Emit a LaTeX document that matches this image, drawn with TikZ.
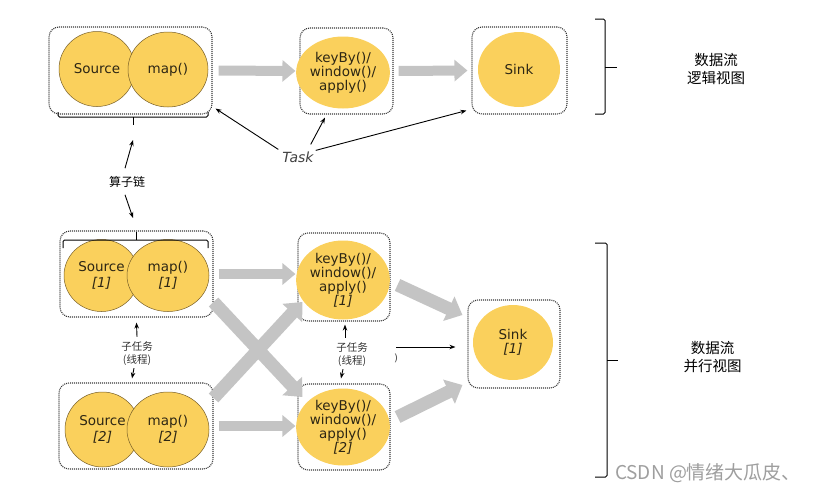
\documentclass[tikz,border=0pt]{standalone}
\usepackage{fontspec}
\setmainfont{DejaVu Sans}
\newfontfamily\cjk{Noto Sans CJK SC}
\usetikzlibrary{shapes.geometric,arrows.meta}
\definecolor{opyellow}{RGB}{250,208,92}
\definecolor{opedge}{RGB}{120,95,40}
\definecolor{optext}{RGB}{45,38,20}
\definecolor{flowgray}{RGB}{196,196,196}
\definecolor{boxline}{RGB}{55,55,55}
\tikzset{
  taskbox/.style={draw=boxline, dash pattern=on 1pt off 1pt, line width=1.1pt, rounded corners=10pt},
  op/.style={ellipse, fill=opyellow, inner sep=0pt, align=center, text=optext, font=\fontsize{13.5}{14}\selectfont},
  chained/.style={op, draw=opedge, line width=0.5pt, font=\fontsize{13.5}{16}\selectfont},
  flow/.style={draw=flowgray, line width=10pt, -{Triangle[length=13pt,width=21pt]}},
  flowx/.style={draw=flowgray, line width=13pt, -{Triangle[length=15pt,width=26pt]}},
  pointer/.style={-{Stealth[length=6pt,width=4.5pt]}, line width=0.9pt},
  bracket/.style={line width=1pt, rounded corners=1.5pt},
  note/.style={inner sep=1pt, align=center},
}
\begin{document}
\begin{tikzpicture}[x=1pt,y=-1pt]
  \useasboundingbox (0,0) rectangle (815,493);
  % logical view: tasks
  \node[taskbox, minimum width=163pt, minimum height=87pt] (box1) at (130.5,70.5) {};
  \node[taskbox, minimum width=93pt, minimum height=86pt] (box2) at (346.5,71) {};
  \node[taskbox, minimum width=95pt, minimum height=87pt] (box3) at (519.5,70.5) {};
  \node[chained, minimum width=76pt, minimum height=75pt] (src) at (97,69) {Source};
  \node[chained, minimum width=80pt, minimum height=75pt] (map) at (168,69.5) {map()};
  \node[op, minimum width=80pt, minimum height=72pt] (key) at (343,72.5) {keyBy()/\\window()/\\apply()};
  \node[op, minimum width=82pt, minimum height=75pt] (sink) at (519,69.5) {Sink};
  % parallel view: subtasks
  \node[taskbox, minimum width=153pt, minimum height=86pt] (box4) at (136.5,274) {};
  \node[taskbox, minimum width=154pt, minimum height=86pt] (box5) at (136,426) {};
  \node[taskbox, minimum width=92pt, minimum height=88pt] (box6) at (344,277) {};
  \node[taskbox, minimum width=92pt, minimum height=86pt] (box7) at (344,427) {};
  \node[taskbox, minimum width=92pt, minimum height=88pt] (box8) at (514,344) {};
  \node[chained, minimum width=75pt, minimum height=72pt] (src1) at (101.5,275.5) {Source\\\textit{[1]}};
  \node[chained, minimum width=82pt, minimum height=72pt] (map1) at (168,275.5) {map()\\\textit{[1]}};
  \node[chained, minimum width=75pt, minimum height=75pt] (src2) at (102.5,429.5) {Source\\\textit{[2]}};
  \node[chained, minimum width=82pt, minimum height=75pt] (map2) at (168,429.5) {map()\\\textit{[2]}};
  \node[op, minimum width=82pt, minimum height=79pt] (key1) at (343,280) {keyBy()/\\window()/\\apply()\\\textit{[1]}};
  \node[op, minimum width=82pt, minimum height=77pt] (key2) at (343,427) {keyBy()/\\window()/\\apply()\\\textit{[2]}};
  \node[op, minimum width=80pt, minimum height=75pt] (sink1) at (513,342.5) {Sink\\\textit{[1]}};
  % data flow
  \draw[flow, shorten <=6pt, shorten >=4pt] (box1.east) -- (box2.west);
  \draw[flow, shorten <=5pt, shorten >=4pt] (box2.east) -- (box3.west);
  \draw[flow, shorten <=5pt, shorten >=2pt] (box4.east) -- (box4.east -| box6.west);
  \draw[flow, shorten <=5pt, shorten >=2pt] (box5.east) -- (box5.east -| box7.west);
  \draw[flowx] ([shift={(0,28)}]box4.east) -- ([shift={(5,-30)}]box7.west);
  \draw[flowx] ([shift={(0,-28)}]box5.east) -- ([shift={(5,25)}]box6.west);
  \draw[flowx] ([shift={(7,8)}]box6.east) -- ([shift={(-5,-29)}]box8.west);
  \draw[flowx] ([shift={(7,-10)}]box7.east) -- ([shift={(-5,41)}]box8.west);
  % operator chain
  \draw[bracket] (58,112) -- (58,117) -- (208,117) -- (208,112);
  \draw[bracket] (133,117) -- (133,125) coordinate (chaintop);
  \draw[bracket] (63,248) -- (63,240) -- (208,240) -- (208,248);
  \draw[bracket] (136,240) -- (136,232) coordinate (chainbot);
  \node[note, font=\cjk\fontsize{12}{14}\selectfont] (chain) at (127,182) {算子链};
  \draw[pointer] ([shift={(-2,-7)}]chain.north) -- ([shift={(0,15)}]chaintop);
  \draw[pointer] ([shift={(-2,6)}]chain.south) -- ([shift={(-3,-14)}]chainbot);
  % task
  \node[note, font=\itshape\fontsize{14}{16}\selectfont, text=black!75] (task) at (298,157) {Task};
  \draw[pointer] ([shift={(-3,-1)}]task.north west) -- ([shift={(3,-6)}]box1.south east);
  \draw[pointer] ([shift={(-4,-6)}]task.north east) -- ([shift={(-21.5,3)}]box2.south);
  \draw[pointer] ([shift={(1,0)}]task.north east) -- ([shift={(-5,-4)}]box3.south west);
  % subtasks
  \node[note, font=\cjk\fontsize{10.5}{13}\selectfont, text=black!80] (sub1) at (137,354) {子任务\\(线程)};
  \node[note, font=\cjk\fontsize{10.5}{13}\selectfont, text=black!80] (sub2) at (352,355) {子任务\\(线程)};
  \draw[pointer] ([shift={(0,-4)}]sub1.north) -- ([shift={(0,5)}]box4.south);
  \draw[pointer] ([shift={(-3,1)}]sub1.south) -- ([shift={(-4,-4)}]box5.north);
  \draw[pointer] ([shift={(-7,-4)}]sub2.north) -- ([shift={(1,3)}]box6.south);
  \draw[pointer] ([shift={(-9,1)}]sub2.south) -- ([shift={(-3,-5)}]box7.north);
  \node[note, font=\fontsize{10}{12}\selectfont, text=black!70] (paren) at (396,358) {)};
  \coordinate (midout) at (396,347);
  \draw[pointer] (midout) -- ([shift={(-12,3)}]box8.west);
  % views
  \draw[bracket] (595,19) -- (605,19) -- (605,114) -- (595,114);
  \draw[bracket] (605,67) -- (617,67);
  \draw[bracket] (595,243) -- (607,243) -- (607,477) -- (595,477);
  \draw[bracket] (607,360) -- (618,360);
  \node[note, font=\cjk\fontsize{14.5}{18}\selectfont] (logic) at (716,69) {数据流\\逻辑视图};
  \node[note, font=\cjk\fontsize{14.5}{18}\selectfont] (para) at (712.5,357) {数据流\\并行视图};
  \node[note, font=\cjk\fontsize{19}{21}\selectfont, text=black!38] (mark) at (708,473) {CSDN @情绪大瓜皮、};
\end{tikzpicture}
\end{document}
